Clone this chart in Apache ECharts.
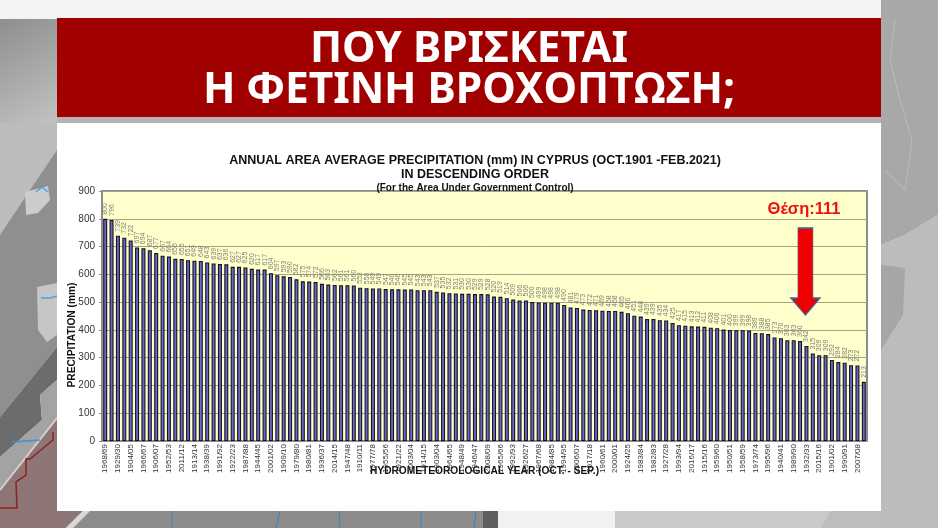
<!DOCTYPE html>
<html>
<head>
<meta charset="utf-8">
<title>Precipitation</title>
<script src="https://cdn.jsdelivr.net/npm/echarts@6/dist/echarts.min.js"></script>
<style>
html, body { margin: 0; padding: 0; background: #f3f3f3; }
#chart { width: 938px; height: 528px; }
</style>
</head>
<body>
<div id="chart"></div>
<script>
// every second year label is legible in the picture, the ones between are not drawn
var yearLabels = ['1968/69', '1929/30', '1904/05', '1966/67', '1906/07', '1952/53', '2011/12', '1913/14', '1938/39', '1991/92',
    '1922/23', '1987/88', '1944/45', '2001/02', '1909/10', '1979/80', '1980/81', '1936/37', '2014/15', '1947/48',
    '1910/11', '1977/78', '1955/56', '1921/22', '2003/04', '1914/15', '1903/04', '1964/65', '1948/49', '1946/47',
    '2008/09', '1965/66', '1992/93', '1926/27', '1967/68', '1984/85', '1994/95', '2006/07', '2017/18', '1960/61',
    '2000/01', '1924/25', '1983/84', '1982/83', '1927/28', '1993/94', '2016/17', '1915/16', '1959/60', '1950/51',
    '1958/59', '1973/74', '1995/96', '1940/41', '1989/90', '1932/33', '2015/16', '1901/02', '1990/91', '2007/08'];

var precipitation = [800, 796, 739, 732, 722, 697, 694, 687, 677, 667,
    664, 656, 655, 651, 649, 648, 643, 639, 637, 636,
    627, 627, 625, 620, 617, 617, 604, 597, 593, 590,
    582, 575, 574, 572, 566, 563, 562, 561, 561, 560,
    552, 550, 549, 549, 547, 546, 546, 545, 545, 543,
    543, 543, 537, 535, 532, 531, 530, 530, 529, 529,
    528, 520, 519, 514, 509, 506, 506, 500, 499, 498,
    498, 498, 490, 481, 479, 473, 472, 471, 469, 468,
    468, 465, 460, 451, 448, 439, 439, 435, 434, 425,
    417, 415, 413, 412, 411, 408, 406, 401, 400, 399,
    399, 398, 389, 388, 385, 373, 370, 363, 363, 360,
    342, 315, 309, 309, 292, 284, 282, 273, 272, 213];

var bannerLines = ['ΠΟΥ ΒΡΙΣΚΕΤΑΙ', 'Η ΦΕΤΙΝΗ ΒΡΟΧΟΠΤΩΣΗ;'];
var rankLabel = 'Θέση:111';
var rankIndex = 110;

var categories = precipitation.map(function (v, i) {
    return i % 2 === 0 ? yearLabels[i / 2] : '';
});

var myChart = echarts.init(document.getElementById('chart'));

function bgPoly(points, fill) {
    return { type: 'polygon', z: -5, silent: true, shape: { points: points }, style: { fill: fill } };
}
function bgLine(points, color, width) {
    return { type: 'polyline', z: -4, silent: true, shape: { points: points }, style: { stroke: color, lineWidth: width || 1, fill: null } };
}

myChart.setOption({
    animation: false,
    backgroundColor: '#f3f3f3',
    textStyle: { fontFamily: 'Liberation Sans' },
    title: [
        { text: 'ANNUAL AREA AVERAGE PRECIPITATION (mm) IN CYPRUS (OCT.1901 -FEB.2021)', left: 470, top: 149, textAlign: 'center',
            textStyle: { fontSize: 12.5, fontWeight: 'bold', color: '#111', fontFamily: 'Liberation Sans' } },
        { text: 'IN DESCENDING ORDER', left: 470, top: 163.5, textAlign: 'center',
            textStyle: { fontSize: 12.5, fontWeight: 'bold', color: '#111', fontFamily: 'Liberation Sans' } },
        { text: '(For the Area Under Government Control)', left: 470, top: 178, textAlign: 'center',
            textStyle: { fontSize: 10, fontWeight: 'bold', color: '#111', fontFamily: 'Liberation Sans' } }
    ],
    graphic: [
        // photo backdrop behind the panels
        { type: 'rect', z: -6, silent: true, shape: { x: 0, y: 19, width: 57, height: 104 },
            style: { fill: new echarts.graphic.LinearGradient(0, 0, 1, 1, [
                { offset: 0, color: '#8e8e8e' }, { offset: 1, color: '#c2c2c2' }]) } },
        bgPoly([[0, 123], [57, 123], [57, 170], [0, 235]], '#bcbcbc'),
        bgPoly([[0, 235], [57, 150], [57, 347], [0, 417]], '#8f8f8f'),
        bgPoly([[0, 417], [57, 347], [57, 380], [40, 395], [42, 420], [0, 457]], '#6c6c6c'),
        bgPoly([[0, 457], [42, 420], [40, 395], [57, 380], [57, 417], [0, 490]], '#a3a3a3'),
        bgPoly([[0, 490], [57, 417], [57, 528], [0, 528]], '#8f7676'),
        bgPoly([[37, 287], [57, 283], [57, 335], [47, 342], [38, 330]], '#c6c6c6'),
        bgPoly([[25, 192], [48, 186], [50, 200], [38, 213], [26, 215]], '#cccccc'),
        bgLine([[57, 418], [0, 490]], '#d8d0d0', 2),
        bgLine([[12, 442], [40, 440]], '#3c93d2', 1.5),
        bgLine([[36, 192], [42, 187], [48, 192]], '#45a5e0', 1.5),
        bgLine([[41, 298], [50, 298], [57, 296]], '#45a5e0', 1.5),
        bgLine([[53, 432], [53, 440], [30, 459], [26, 459], [26, 475], [16, 482], [17, 508], [0, 508]], '#8e2020', 1.5),
        bgPoly([[57, 528], [57, 511], [83, 511], [66, 528]], '#8f7676'),
        bgPoly([[66, 528], [83, 511], [90, 511], [73, 528]], '#d8d8d8'),
        bgPoly([[73, 528], [90, 511], [483, 511], [483, 528]], '#8c8c8c'),
        bgPoly([[483, 511], [498, 511], [498, 528], [483, 528]], '#5e5e5e'),
        bgPoly([[498, 511], [615, 511], [615, 528], [498, 528]], '#f1f1f1'),
        bgPoly([[615, 511], [830, 511], [820, 528], [615, 528]], '#cacaca'),
        bgPoly([[830, 511], [881, 511], [881, 528], [820, 528]], '#bdbdbd'),
        bgPoly([[881, 0], [938, 0], [938, 215], [905, 235], [881, 245]], '#a8a8a8'),
        bgPoly([[881, 245], [905, 235], [938, 215], [938, 528], [881, 528]], '#bcbcbc'),
        bgPoly([[881, 265], [905, 268], [903, 315], [881, 350]], '#a6a6a6'),
        bgLine([[885, 170], [905, 190], [912, 140], [900, 100], [890, 60], [895, 20]], '#bcbcbc', 1),
        bgLine([[172, 511], [172, 528]], '#2f86c8', 1),
        bgLine([[280, 511], [276, 528]], '#2f86c8', 1),
        bgLine([[339, 511], [340, 528]], '#2f86c8', 1),
        bgLine([[421, 511], [421, 528]], '#2f86c8', 1),
        bgLine([[476, 511], [474, 528]], '#2f86c8', 1),
        // white panel and red banner
        { type: 'rect', z: -3, silent: true, shape: { x: 57, y: 123, width: 824, height: 388 }, style: { fill: '#ffffff' } },
        { type: 'rect', z: -3, silent: true, shape: { x: 57, y: 18, width: 824, height: 99 }, style: { fill: '#a00000' } },
        { type: 'rect', z: -3, silent: true, shape: { x: 57, y: 117, width: 824, height: 6 }, style: { fill: '#b4b4b4' } },
        { type: 'text', z: 5, silent: true, x: 469, y: 50, style: { text: bannerLines[0], fill: '#ffffff', align: 'center', verticalAlign: 'middle',
            font: 'bold 42.5px "Noto Sans"' } },
        { type: 'text', z: 5, silent: true, x: 469, y: 91, style: { text: bannerLines[1], fill: '#ffffff', align: 'center', verticalAlign: 'middle',
            font: 'bold 42.5px "Noto Sans"' } },
        { type: 'text', z: 5, silent: true, x: 804, y: 209, style: { text: rankLabel, fill: '#ee1111', align: 'center', verticalAlign: 'middle',
            font: 'bold 16.5px "Liberation Sans"' } }
    ],
    grid: {
        left: 102, right: 71, top: 191, height: 250,
        show: true, backgroundColor: '#ffffcc', borderColor: '#8c8c8c', borderWidth: 2
    },
    xAxis: {
        type: 'category',
        data: categories,
        name: 'HYDROMETEOROLOGICAL YEAR (OCT. - SEP.)',
        nameLocation: 'middle',
        nameGap: 25,
        nameMoveOverlap: false,
        nameTextStyle: { fontSize: 10.2, fontWeight: 'bold', color: '#111' },
        axisLine: { lineStyle: { color: '#8c8c8c', width: 2 } },
        axisTick: { show: false },
        axisLabel: { interval: 0, rotate: 90, fontSize: 8, color: '#333', margin: 3 }
    },
    yAxis: {
        type: 'value',
        min: 0,
        max: 900,
        interval: 100,
        name: 'PRECIPITATION (mm)',
        nameLocation: 'middle',
        nameRotate: 90,
        nameGap: 25,
        nameMoveOverlap: false,
        nameTextStyle: { fontSize: 10.2, fontWeight: 'bold', color: '#111', padding: [0, 38, 0, 0] },
        axisLine: { show: true, lineStyle: { color: '#8c8c8c', width: 2 } },
        axisTick: { show: true, length: 3, lineStyle: { color: '#8c8c8c' } },
        axisLabel: { fontSize: 10, color: '#333', margin: 7 },
        splitLine: { lineStyle: { color: '#a5a585', width: 1 } }
    },
    series: [{
        type: 'bar',
        data: precipitation,
        barWidth: 4,
        itemStyle: { color: '#6868d0', borderColor: '#14141e', borderWidth: 1.1 },
        label: {
            show: true, position: 'top', rotate: 90, distance: 4,
            align: 'left', verticalAlign: 'middle',
            fontSize: 7, color: '#808078'
        },
        labelLayout: { hideOverlap: false },
        markPoint: {
            silent: true,
            animation: false,
            symbol: 'path://M7 0L22 0L22 70L29 70L14.5 87L0 70L7 70Z',
            symbolSize: [29, 87],
            symbolKeepAspect: false,
            symbolOffset: [-1, 0],
            label: { show: false },
            itemStyle: { color: '#f00000', borderColor: '#3f6496', borderWidth: 1 },
            data: [{ coord: [rankIndex, 610] }]
        }
    }]
});
</script>
</body>
</html>
